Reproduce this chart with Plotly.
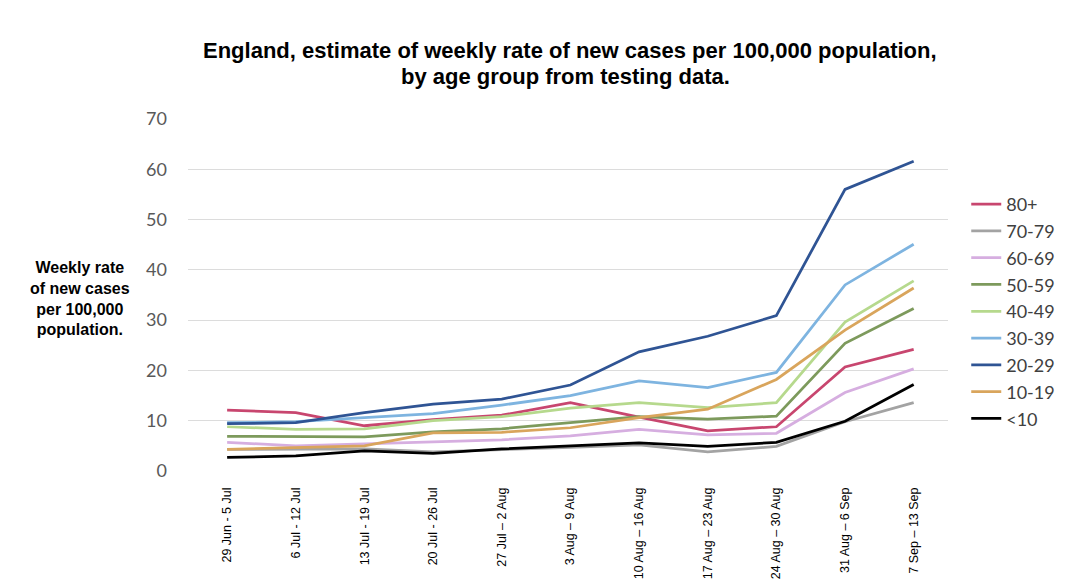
import plotly.graph_objects as go

weeks = ["29 Jun - 5 Jul", "6 Jul - 12 Jul", "13 Jul - 19 Jul", "20 Jul - 26 Jul",
         "27 Jul \u2013 2 Aug", "3 Aug \u2013 9 Aug", "10 Aug \u2013 16 Aug", "17 Aug \u2013 23 Aug",
         "24 Aug \u2013 30 Aug", "31 Aug \u2013 6 Sep", "7 Sep \u2013 13 Sep"]

age_80 = [12.1, 11.6, 9.0, 10.2, 11.1, 13.6, 10.7, 8.0, 8.8, 20.7, 24.2]
age_70 = [4.3, 4.3, 4.4, 3.8, 4.2, 4.7, 5.2, 3.8, 4.9, 9.8, 13.6]
age_60 = [5.7, 5.0, 5.4, 5.8, 6.2, 7.0, 8.3, 7.2, 7.5, 15.6, 20.3]
age_50 = [6.9, 6.8, 6.8, 7.8, 8.4, 9.6, 10.8, 10.3, 10.9, 25.4, 32.3]
age_40 = [8.8, 8.3, 8.4, 10.0, 10.8, 12.5, 13.6, 12.6, 13.6, 29.6, 37.8]
age_30 = [9.6, 9.8, 10.6, 11.4, 13.1, 15.0, 17.9, 16.6, 19.6, 37.0, 45.1]
age_20 = [9.4, 9.6, 11.6, 13.3, 14.3, 17.1, 23.7, 26.8, 30.9, 56.0, 61.6]
age_10 = [4.3, 4.6, 5.0, 7.6, 7.7, 8.6, 10.6, 12.3, 18.2, 28.0, 36.4]
age_0 = [2.7, 3.0, 4.0, 3.5, 4.4, 5.0, 5.6, 4.9, 5.7, 9.9, 17.2]

series = [
    ("80+", age_80, "#C8466F"),
    ("70-79", age_70, "#A3A3A3"),
    ("60-69", age_60, "#D6AEE0"),
    ("50-59", age_50, "#7D9A5C"),
    ("40-49", age_40, "#B6D98D"),
    ("30-39", age_30, "#7EB4E0"),
    ("20-29", age_20, "#2F5494"),
    ("10-19", age_10, "#D9A55C"),
    ("<10", age_0, "#000000"),
]

fig = go.Figure()
for i, (name, vals, col) in enumerate(series):
    fig.add_trace(go.Scatter(
        x=list(range(len(weeks))), y=vals, name=name, mode="lines",
        line=dict(color=col, width=2.75), legendgroup=name, legendrank=i,
    ))

title_font = dict(family="Liberation Sans", size=22, color="#000000")

fig.update_layout(
    width=1080, height=580,
    paper_bgcolor="white", plot_bgcolor="white",
    margin=dict(l=180, r=140, t=111, b=117),
    showlegend=True,
    legend=dict(
        x=1.024, y=0.81, xanchor="left", yanchor="top",
        font=dict(family="Lato", size=18, color="#404040"),
        traceorder="grouped", tracegroupgap=0.4, itemwidth=30,
        bgcolor="rgba(0,0,0,0)",
    ),
    annotations=[
        dict(text="<b>England, estimate of weekly rate of new cases per 100,000 population,</b>",
             xref="paper", yref="paper", x=0.503, y=1.194, xanchor="center", yanchor="middle",
             showarrow=False, font=title_font),
        dict(text="<b>by age group from testing data.</b>",
             xref="paper", yref="paper", x=0.497, y=1.122, xanchor="center", yanchor="middle",
             showarrow=False, font=title_font),
        dict(text="<b>Weekly rate<br>of new cases<br>per 100,000<br>population.</b>",
             xref="paper", yref="paper", x=-0.142, y=0.49, xanchor="center", yanchor="middle",
             showarrow=False, align="center",
             font=dict(family="Liberation Sans", size=16, color="#000000")),
    ],
)

fig.update_xaxes(
    tickmode="array", tickvals=list(range(len(weeks))), ticktext=weeks,
    range=[-0.57, 10.5], tickangle=-90, showgrid=False, zeroline=False,
    showline=False, ticks="", ticklabelstandoff=13, automargin=False,
    tickfont=dict(family="Liberation Sans", size=12.5, color="#000000"),
)
fig.update_yaxes(
    range=[0, 70], dtick=10, showgrid=True, gridcolor="#DCDCDC", gridwidth=1,
    zeroline=False, showline=False, ticks="", ticklabelstandoff=20, automargin=False,
    tickfont=dict(family="Lato", size=18, color="#595959"),
)

fig.write_html("out.html")
